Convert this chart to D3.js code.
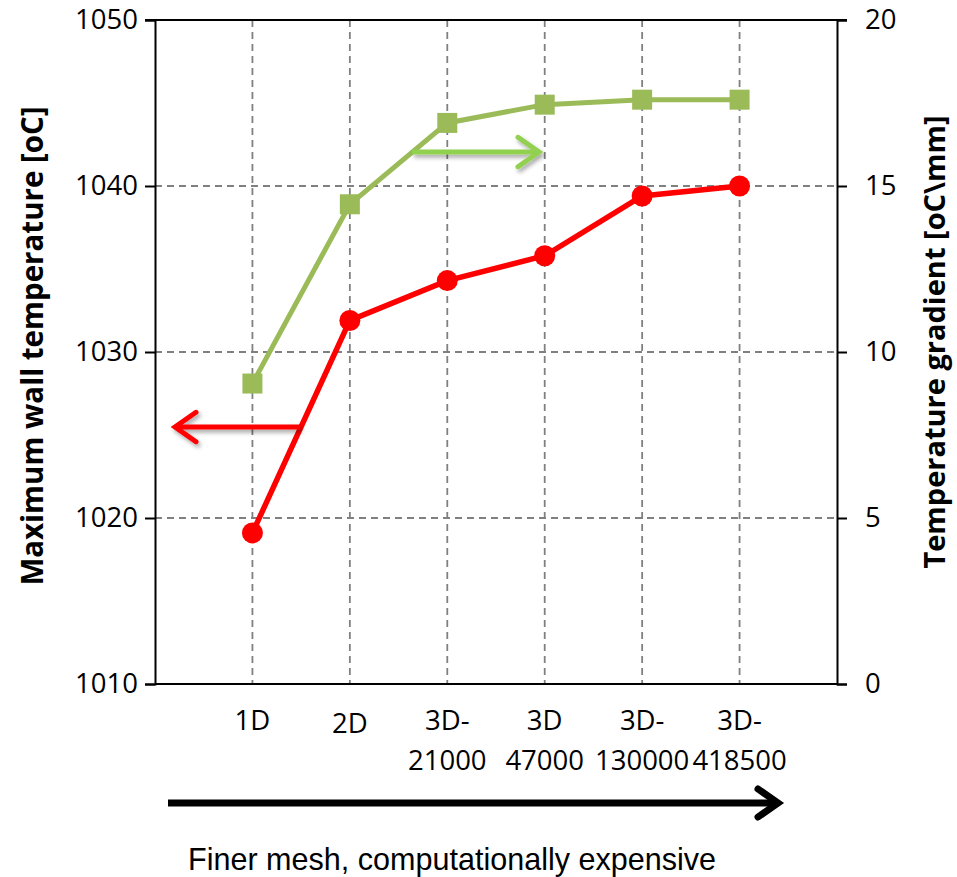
<!DOCTYPE html>
<html>
<head>
<meta charset="utf-8">
<script src="https://cdn.jsdelivr.net/npm/d3@7"></script>
<style>
  body { margin: 0; background: #fff; }
  text { font-family: "Open Sans", "DejaVu Sans", sans-serif; }
</style>
</head>
<body>
<div id="chart"></div>
<script>
// data
const categories = [["1D"], ["2D"], ["3D-", "21000"], ["3D", "47000"], ["3D-", "130000"], ["3D-", "418500"]];
const maxWallTemp = [1019.1, 1031.9, 1034.3, 1035.8, 1039.4, 1040.0];
const tempGradient = [9.05, 14.45, 16.9, 17.45, 17.6, 17.6];
const leftTicks = [1010, 1020, 1030, 1040, 1050];
const rightTicks = [0, 5, 10, 15, 20];

const width = 957, height = 877;
const margin = { top: 20, right: 120, bottom: 193, left: 155 };
const plotW = width - margin.left - margin.right;
const plotH = height - margin.top - margin.bottom;

const svg = d3.select('#chart').append('svg')
    .attr('width', width)
    .attr('height', height);

const defs = svg.append('defs');
const shadow = defs.append('filter').attr('id', 'shadow')
    .attr('x', '-20%').attr('y', '-50%').attr('width', '140%').attr('height', '200%');
shadow.append('feDropShadow')
    .attr('dx', 2).attr('dy', 3).attr('stdDeviation', 2)
    .attr('flood-color', '#000').attr('flood-opacity', 0.35);

const chart = svg.append('g')
    .attr('transform', `translate(${margin.left},${margin.top})`);

// scales: 6 categories sit on positions 1..6 of a 0..7 axis
const xScale = d3.scaleLinear().domain([0, categories.length + 1]).range([0, plotW]);
const yLeft = d3.scaleLinear().domain([1010, 1050]).range([plotH, 0]);
const yRight = d3.scaleLinear().domain([0, 20]).range([plotH, 0]);

// gridlines
const gridColor = '#808080';
chart.append('g').selectAll('line')
    .data(leftTicks.filter(d => d > 1010 && d < 1050))
    .join('line')
    .attr('x1', 0).attr('x2', plotW)
    .attr('y1', d => yLeft(d)).attr('y2', d => yLeft(d))
    .attr('stroke', gridColor).attr('stroke-width', 1.8)
    .attr('stroke-dasharray', '7,5');

chart.append('g').selectAll('line')
    .data(categories)
    .join('line')
    .attr('x1', (d, i) => xScale(i + 1)).attr('x2', (d, i) => xScale(i + 1))
    .attr('y1', 0).attr('y2', plotH)
    .attr('stroke', gridColor).attr('stroke-width', 1.8)
    .attr('stroke-dasharray', '7,5');

// axes
const leftAxis = d3.axisLeft(yLeft).tickValues(leftTicks).tickFormat(d3.format('d')).tickSize(10).tickPadding(7);
const rightAxis = d3.axisRight(yRight).tickValues(rightTicks).tickFormat(d3.format('d')).tickSize(10).tickPadding(18);

const leftG = chart.append('g').call(leftAxis);
const rightG = chart.append('g').attr('transform', `translate(${plotW},0)`).call(rightAxis);

[leftG, rightG].forEach(g => {
    g.select('.domain').attr('stroke', '#000').attr('stroke-width', 2);
    g.selectAll('.tick line').attr('stroke', '#000').attr('stroke-width', 2);
    g.selectAll('.tick text')
        .attr('fill', '#000')
        .style('font-size', '27.5px')
        .style('font-family', '"Open Sans", sans-serif');
});

// top and bottom frame lines
chart.append('line')
    .attr('x1', -10).attr('x2', plotW + 10)
    .attr('y1', yLeft(1050)).attr('y2', yLeft(1050))
    .attr('stroke', '#000').attr('stroke-width', 2);
chart.append('line')
    .attr('x1', 0).attr('x2', plotW)
    .attr('y1', plotH).attr('y2', plotH)
    .attr('stroke', '#000').attr('stroke-width', 2);

// category labels
const catG = chart.append('g');
categories.forEach((lines, i) => {
    const t = catG.append('text')
        .attr('x', xScale(i + 1))
        .attr('y', plotH + 46 + (i === 1 ? 3 : 0))
        .attr('text-anchor', 'middle')
        .style('font-size', '27.5px');
    lines.forEach((s, j) => {
        t.append('tspan')
            .attr('x', xScale(i + 1))
            .attr('dy', j === 0 ? 0 : 40)
            .text(s);
    });
});

// axis titles
svg.append('text')
    .attr('transform', `translate(43,${margin.top + plotH / 2 - 6}) rotate(-90)`)
    .attr('text-anchor', 'middle')
    .style('font-size', '29.5px')
    .style('font-weight', 'bold')
    .text('Maximum wall temperature [oC]');

svg.append('text')
    .attr('transform', `translate(945,${margin.top + plotH / 2 - 10}) rotate(-90)`)
    .attr('text-anchor', 'middle')
    .style('font-size', '29px')
    .style('font-weight', 'bold')
    .text('Temperature gradient [oC\\mm]');

// lines + markers
const green = '#9bbb59', red = '#ff0000';

const lineGreen = d3.line()
    .x((d, i) => xScale(i + 1))
    .y(d => yRight(d));
const lineRed = d3.line()
    .x((d, i) => xScale(i + 1))
    .y(d => yLeft(d));

chart.append('path')
    .datum(tempGradient)
    .attr('d', lineGreen)
    .attr('fill', 'none')
    .attr('stroke', green)
    .attr('stroke-width', 5);

chart.append('g').selectAll('rect')
    .data(tempGradient)
    .join('rect')
    .attr('x', (d, i) => xScale(i + 1) - 10)
    .attr('y', d => yRight(d) - 10)
    .attr('width', 20).attr('height', 20)
    .attr('fill', green);

chart.append('path')
    .datum(maxWallTemp)
    .attr('d', lineRed)
    .attr('fill', 'none')
    .attr('stroke', red)
    .attr('stroke-width', 5.5);

chart.append('g').selectAll('circle')
    .data(maxWallTemp)
    .join('circle')
    .attr('cx', (d, i) => xScale(i + 1))
    .attr('cy', d => yLeft(d))
    .attr('r', 10.5)
    .attr('fill', red);

// annotation arrows
function arrow(g, x1, x2, y, color, w, head, useShadow) {
    const dir = x2 > x1 ? 1 : -1;
    const a = g.append('g');
    if (useShadow) a.attr('filter', 'url(#shadow)');
    a.append('line')
        .attr('x1', x1).attr('x2', x2 - dir * 2)
        .attr('y1', y).attr('y2', y)
        .attr('stroke', color).attr('stroke-width', w);
    a.append('path')
        .attr('d', `M${x2 - dir * head},${y - head * 0.7}L${x2},${y}L${x2 - dir * head},${y + head * 0.7}`)
        .attr('fill', 'none')
        .attr('stroke', color)
        .attr('stroke-width', w)
        .attr('stroke-linecap', 'round')
        .attr('stroke-linejoin', 'miter');
}

arrow(svg, 300, 175, 427, red, 5, 21, true);
arrow(svg, 412, 539, 152, '#92d050', 5, 21, true);
arrow(svg, 168, 778, 803, '#000', 7, 20, false);

svg.append('text')
    .attr('x', 188)
    .attr('y', 870)
    .attr('textLength', 528)
    .attr('lengthAdjust', 'spacingAndGlyphs')
    .style('font-family', '"Liberation Sans Narrow", "Liberation Sans", Arial, sans-serif')
    .style('font-size', '32px')
    .text('Finer mesh, computationally expensive');
</script>
</body>
</html>
